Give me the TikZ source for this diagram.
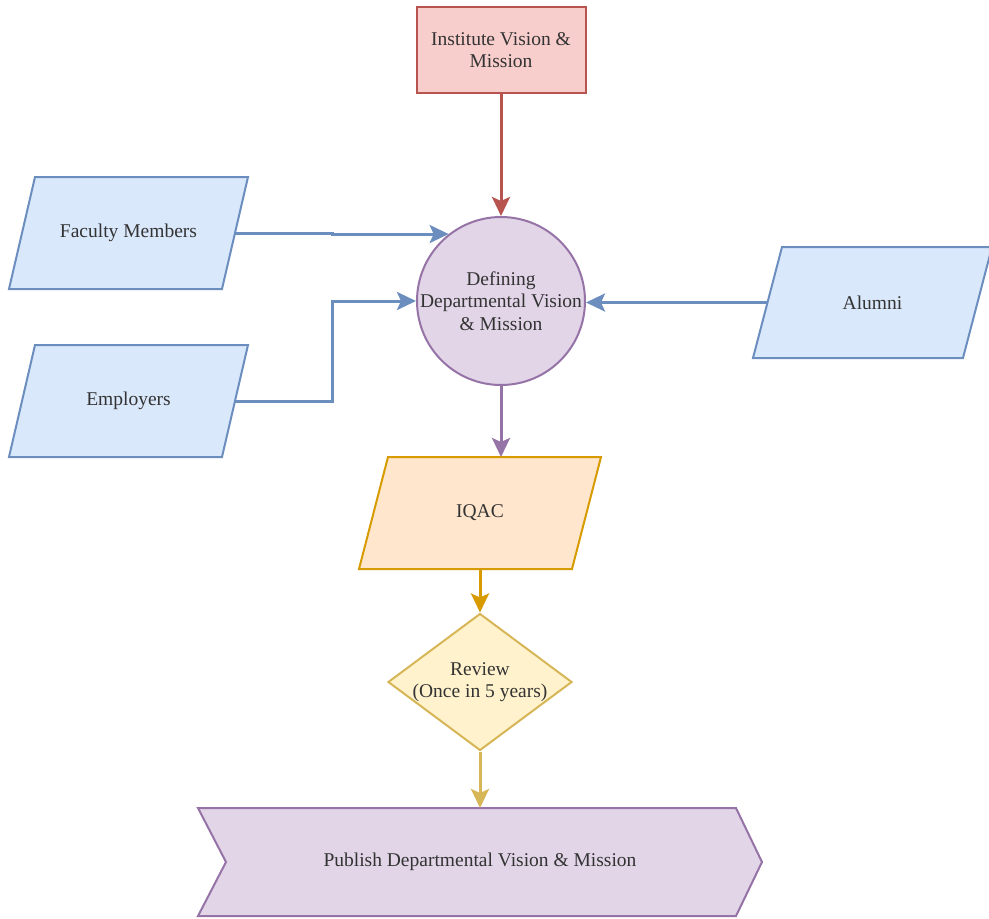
\documentclass[tikz,border=0pt]{standalone}
\usepackage{fontspec}
\setmainfont{Liberation Serif}
\usetikzlibrary{arrows.meta,shapes.geometric}

\definecolor{redfill}{HTML}{F8CECC}\definecolor{redline}{HTML}{B85450}
\definecolor{bluefill}{HTML}{DAE8FC}\definecolor{blueline}{HTML}{6C8EBF}
\definecolor{purplefill}{HTML}{E1D5E7}\definecolor{purpleline}{HTML}{9673A6}
\definecolor{orangefill}{HTML}{FFE6CC}\definecolor{orangeline}{HTML}{D79B00}
\definecolor{yellowfill}{HTML}{FFF2CC}\definecolor{yellowline}{HTML}{D6B656}
\definecolor{txt}{HTML}{333333}

\tikzset{
  lbl/.style={font=\fontsize{19.5}{22.5}\selectfont, text=txt, align=center},
  outline/.style={line width=2pt, line join=miter},
  link/.style={line width=3pt, -{Stealth[length=19pt,width=18pt,inset=4pt]}},
  ghost/.style={inner sep=0pt, outer sep=0pt}
}

% parallelogram: name, centre, mid width, height, half slant, fill, line, text
\newcommand\parabox[8]{%
  \node[ghost, minimum width=#3, minimum height=#4] (#1) at (#2) {};
  \filldraw[outline, fill=#6, draw=#7]
    ([xshift=#5]#1.north west) -- ([xshift=#5]#1.north east) --
    ([xshift=-#5]#1.south east) -- ([xshift=-#5]#1.south west) -- cycle;
  \node[lbl] at (#1) {#8};}

\begin{document}
\begin{tikzpicture}[x=1pt,y=-1pt]
\useasboundingbox (0,0) rectangle (989,919);

% institute box
\node[outline, draw=redline, fill=redfill, minimum width=169pt, minimum height=86pt, inner sep=0pt, lbl]
  (inst) at (501,50) {Institute Vision \&\\Mission};

% central circle
\node[circle, outline, draw=purpleline, fill=purplefill, minimum size=168pt, inner sep=0pt]
  (def) at (501,301) {};
\node[lbl] at (def) {Defining\\Departmental Vision\\\& Mission};

% stakeholders
\parabox{fac}{128.5,233}{213}{112}{13}{bluefill}{blueline}{Faculty Members}
\parabox{emp}{128.5,401}{213}{112}{13}{bluefill}{blueline}{Employers}
\parabox{alu}{872.5,302.5}{210}{111}{14.5}{bluefill}{blueline}{Alumni}

% IQAC
\parabox{iqac}{480,513}{213}{112}{14.5}{orangefill}{orangeline}{IQAC}

% review decision
\node[diamond, outline, draw=yellowline, fill=yellowfill, minimum width=184pt, minimum height=137pt, inner sep=0pt]
  (rev) at (480,682) {};
\node[lbl] at (rev) {Review\\(Once in 5 years)};

% publish step
\node[ghost, minimum width=564pt, minimum height=108pt] (pub) at (480,862) {};
\filldraw[outline, fill=purplefill, draw=purpleline]
  (pub.north west) -- ([xshift=-26pt]pub.north east) -- (pub.east) --
  ([xshift=-26pt]pub.south east) -- (pub.south west) -- ([xshift=28pt]pub.west) -- cycle;
\node[lbl] at (pub) {Publish Departmental Vision \& Mission};

% connectors
\draw[link, redline] (inst.south) -- (def.north);
\draw[link, blueline] (fac.east) -- ++(97,0) |- (def.128);
\draw[link, blueline] (emp.east) -- ++(97,0) |- (def.west);
\draw[link, blueline] (alu.west) -- (alu.west -| def.east);
\draw[link, purpleline] (def.south) -- (def.south |- iqac.north);
\draw[link, orangeline] (iqac.south) -- (rev.north);
\draw[link, yellowline] (rev.south) -- (pub.north);
\end{tikzpicture}
\end{document}
